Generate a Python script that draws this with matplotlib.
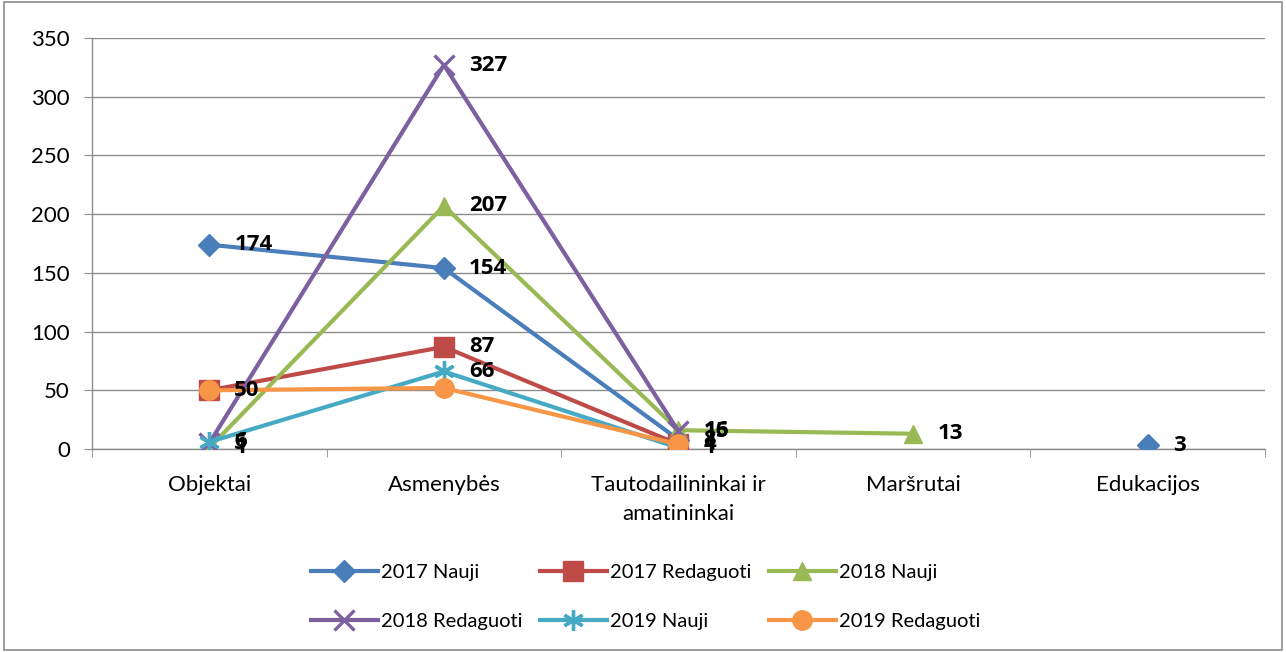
import numpy as np
import matplotlib
matplotlib.use("Agg")
import matplotlib.pyplot as plt
from matplotlib.patches import Rectangle

plt.rcParams['font.family'] = ['Lato', 'DejaVu Sans']

categories = ["Objektai", "Asmenybės", "Tautodailininkai ir\namatininkai", "Maršrutai", "Edukacijos"]
nan = np.nan
s2017_nauji = [174, 154, 8, nan, 3]
s2017_red = [50, 87, 4, nan, nan]
s2018_nauji = [1, 207, 16, 13, nan]
s2018_red = [5, 327, 15, nan, nan]
s2019_nauji = [6, 66, 1, nan, nan]
s2019_red = [50, 52, 4, nan, nan]

# name, values, colour, marker, size, show labels
series = [
    ("2017 Nauji", s2017_nauji, "#4A7EBB", "D", 11, True),
    ("2017 Redaguoti", s2017_red, "#BE4B48", "s", 14, True),
    ("2018 Nauji", s2018_nauji, "#98B954", "^", 13, True),
    ("2018 Redaguoti", s2018_red, "#7D60A0", "x", 14, True),
    ("2019 Nauji", s2019_nauji, "#46AAC5", (6, 2, 0), 15, True),
    ("2019 Redaguoti", s2019_red, "#F79646", "o", 14, False),
]

fig = plt.figure(figsize=(12.86, 6.52), dpi=100)
ax = fig.add_axes([92/1286, 1 - 449/652, (1265-92)/1286, (449-38)/652])
fig.patches.append(Rectangle((0.003, 0.003), 0.994, 0.994, transform=fig.transFigure,
                             fill=False, edgecolor="#8c8c8c", linewidth=1.2))

x = np.arange(len(categories))
handles = {}
for name, vals, col, mk, ms, show in series:
    v = np.array(vals, dtype=float)
    kw = {}
    if mk in ("x", (6, 2, 0)):
        kw = dict(markeredgewidth=2.4)
    h, = ax.plot(x, v, color=col, linewidth=3, marker=mk, markersize=ms,
                 markerfacecolor=col, markeredgecolor=col, label=name, zorder=3, **kw)
    handles[name] = h
    if show:
        for xi, vi in zip(x, v):
            if not np.isnan(vi):
                ax.annotate(f"{int(vi)}", (xi, vi), xytext=(18, 0), textcoords="offset points",
                            ha="left", va="center", fontsize=16, fontweight="bold",
                            color="black", zorder=5, family=['Open Sans', 'DejaVu Sans'])

ax.set_xlim(-0.5, len(categories) - 0.5)
ax.set_ylim(0, 350)
ax.set_yticks(np.arange(0, 351, 50))
ax.yaxis.grid(True, color="#8c8c8c", linewidth=1)
ax.set_axisbelow(True)
ax.set_xticks(x)
ax.set_xticklabels(categories)
ax.set_xticks(np.arange(-0.5, len(categories), 1), minor=True)
ax.tick_params(axis="x", which="major", length=0, pad=19, labelsize=16)
ax.tick_params(axis="x", which="minor", length=6, color="#8c8c8c", direction="out")
ax.tick_params(axis="y", length=6, color="#8c8c8c", direction="out", labelsize=16, pad=10)
for sp in ["top", "right"]:
    ax.spines[sp].set_visible(False)
for sp in ["left", "bottom"]:
    ax.spines[sp].set_color("#8c8c8c")
    ax.spines[sp].set_linewidth(1)
for lbl in ax.get_xticklabels():
    lbl.set_linespacing(1.55)

order = ["2017 Nauji", "2018 Redaguoti", "2017 Redaguoti", "2019 Nauji", "2018 Nauji", "2019 Redaguoti"]
leg = fig.legend([handles[n] for n in order], order, ncol=3, loc="center",
                 bbox_to_anchor=(0.502, 1 - 597/652), frameon=False, fontsize=14.5,
                 handlelength=3.3, handletextpad=0.15, columnspacing=0.9, labelspacing=1.55)

fig.savefig("out.png", dpi=100)
